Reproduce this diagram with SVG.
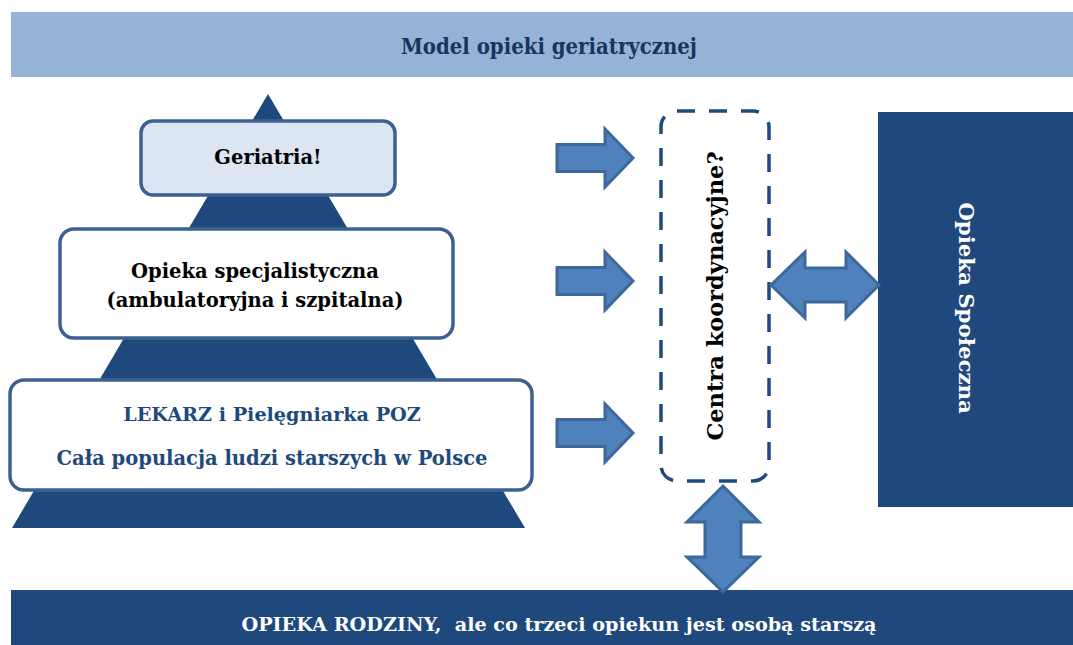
<svg xmlns="http://www.w3.org/2000/svg" width="1073" height="645" viewBox="0 0 1073 645">
<defs>
<style>
.t{font-family:"DejaVu Serif","Liberation Serif",serif;font-weight:bold;text-anchor:middle}
.box{stroke:#3b6192;stroke-width:3.5}
.arr{fill:#4f81bd;stroke:#3d6899;stroke-width:3;stroke-linejoin:miter}
.dark{fill:#1f497d}
</style>
<path id="rarrow" d="M-76,-13.5 H-28 V-29 L0,0 L-28,29 V13.5 H-76 Z"/>
</defs>
<rect width="1073" height="645" fill="#ffffff"/>
<g id="title">
<rect x="11" y="12" width="1062" height="65" fill="#95b3d7"/>
<text class="t" x="549" y="54" font-size="21.5" fill="#17365d" textLength="296" lengthAdjust="spacingAndGlyphs">Model opieki geriatrycznej</text>
</g>
<g id="pyramid">
<polygon class="dark" points="268,94 525,528 12,528"/>
</g>
<g id="geriatria">
<rect class="box" x="141" y="121" width="254" height="74" rx="12" fill="#dce6f2"/>
<text class="t" x="268" y="164" font-size="19.5" fill="#000">Geriatria!</text>
</g>
<g id="specjalistyczna">
<rect class="box" x="60" y="229" width="393" height="109" rx="14" fill="#ffffff"/>
<text class="t" x="255" y="278" font-size="19.5" fill="#000">Opieka specjalistyczna</text>
<text class="t" x="255" y="307" font-size="19.5" fill="#000">(ambulatoryjna i szpitalna)</text>
</g>
<g id="poz">
<rect class="box" x="10" y="380" width="522" height="110" rx="14" fill="#ffffff"/>
<text class="t" x="272" y="421" font-size="19.2" fill="#1f497d">LEKARZ i Pielęgniarka POZ</text>
<text class="t" x="272" y="465" font-size="19.5" fill="#1f497d">Cała populacja ludzi starszych w Polsce</text>
</g>
<g id="centra">
<rect x="661" y="111" width="108" height="370" rx="16" fill="none" stroke="#1f497d" stroke-width="3.5" stroke-dasharray="18 14"/>
<text class="t" transform="translate(723,296) rotate(-90)" x="0" y="0" font-size="22.5" fill="#000">Centra koordynacyjne?</text>
</g>
<g id="spoleczna">
<rect class="dark" x="878" y="112" width="195" height="395"/>
<text class="t" transform="translate(959,308) rotate(90)" x="0" y="0" font-size="21.3" fill="#ffffff">Opieka Społeczna</text>
</g>
<g id="rodzina">
<rect class="dark" x="11" y="590" width="1062" height="55"/>
<text class="t" x="559" y="631" font-size="19.2" fill="#ffffff" xml:space="preserve">OPIEKA RODZINY,  ale co trzeci opiekun jest osobą starszą</text>
</g>
<g id="connectors">
<use href="#rarrow" class="arr" transform="translate(633,158)"/>
<use href="#rarrow" class="arr" transform="translate(633,281)"/>
<use href="#rarrow" class="arr" transform="translate(633,433)"/>
<path class="arr" d="M771,285 L805,252 V268 H846 V252 L879,285 L846,318 V302 H805 V318 Z"/>
<path class="arr" d="M723,486 L759,522 H741 V557 H759 L723,592 L687,557 H705 V522 H687 Z"/>
</g>
</svg>
